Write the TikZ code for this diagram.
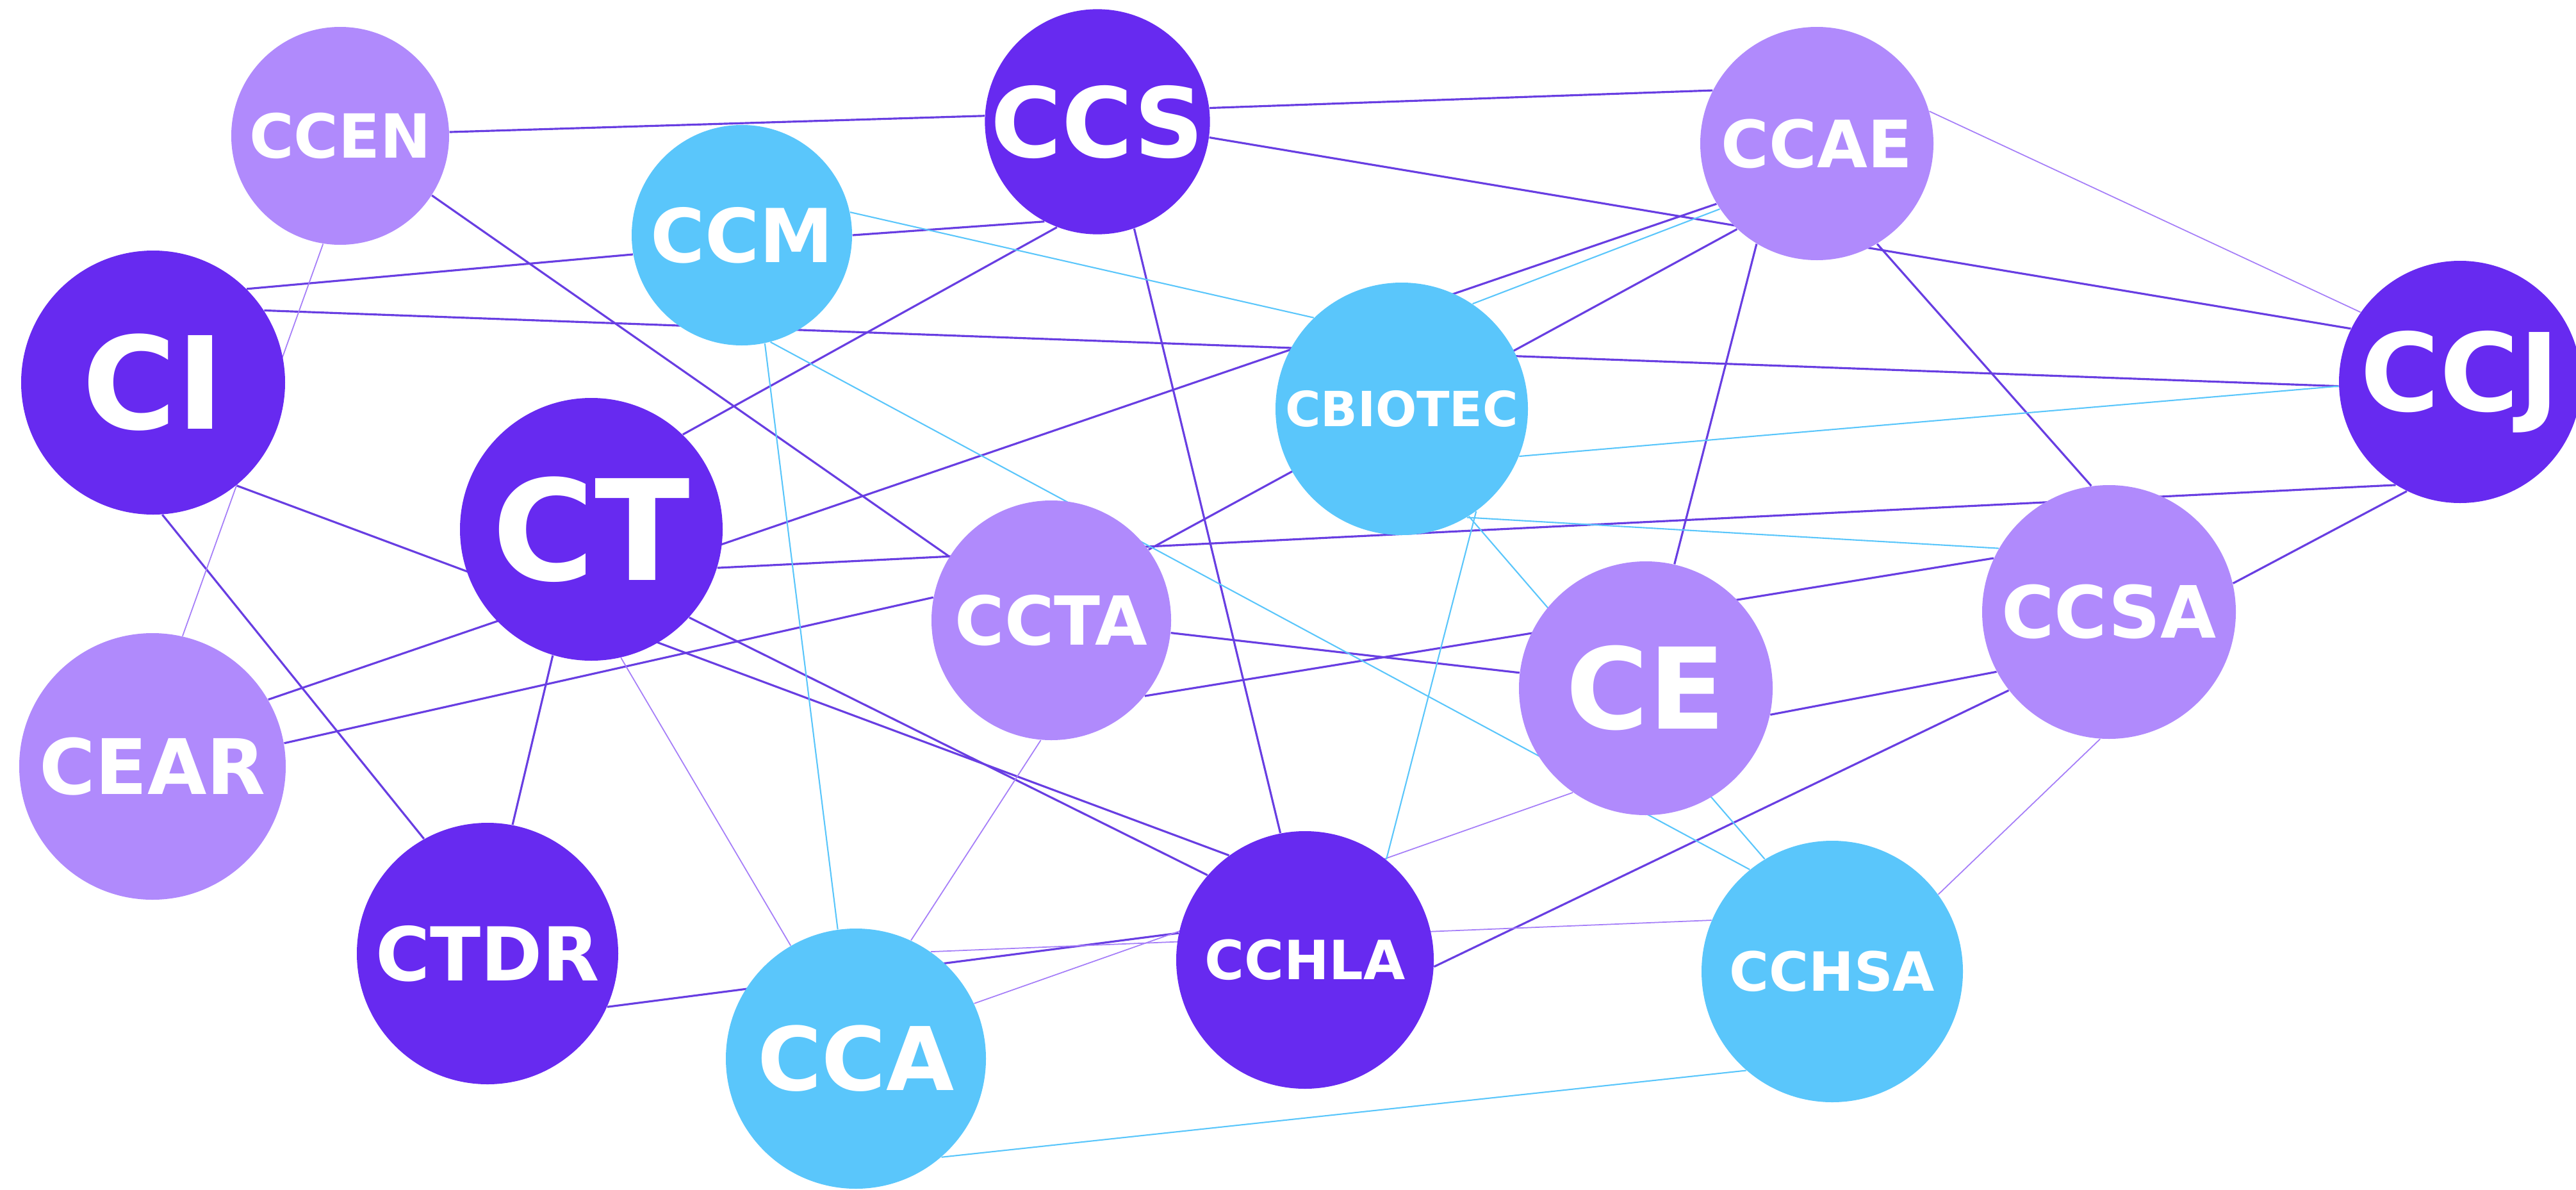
\documentclass[tikz,border=0pt]{standalone}
\usepackage{fontspec}
\setmainfont{DejaVu Sans}
\usetikzlibrary{backgrounds}
\definecolor{deepviolet}{RGB}{103,42,240}
\definecolor{lilac}{RGB}{176,138,252}
\definecolor{skyblue}{RGB}{90,198,251}
\definecolor{linkviolet}{RGB}{104,62,226}
\newcommand{\lbl}[1]{\fontsize{#1}{#1}\selectfont\bfseries}

\begin{document}
\begin{tikzpicture}[
  hub/.style={circle, inner sep=0pt, text=white},
  core/.style={hub, fill=deepviolet},
  soft/.style={hub, fill=lilac},
  sky/.style={hub, fill=skyblue},
  strong/.style={line width=0.9pt, linkviolet},
  faint/.style={line width=0.5pt, lilac!85!linkviolet},
  cyanlink/.style={line width=0.6pt, skyblue}
]
\useasboundingbox (0,0) rectangle (40.21,-18.56);

% Centres
\node[soft, minimum size=3.40cm, font=\lbl{27pt}] (ccen) at (5.31,-2.12) {CCEN};
\node[core, minimum size=3.46cm, font=\lbl{43pt}] (ccs) at (17.13,-1.90) {CCS};
\node[sky, minimum size=3.44cm, font=\lbl{33pt}] (ccm) at (11.58,-3.67) {CCM};
\node[soft, minimum size=3.64cm, font=\lbl{29pt}] (ccae) at (28.36,-2.24) {CCAE};
\node[core, minimum size=4.12cm, font=\lbl{57pt}] (ci) at (2.39,-5.97) {CI};
\node[sky, minimum size=3.94cm, font=\lbl{21.5pt}] (cbiotec) at (21.88,-6.38) {CBIOTEC};
\node[core, minimum size=3.78cm, font=\lbl{48pt}] (ccj) at (38.40,-5.96) {CCJ};
\node[core, minimum size=4.10cm, font=\lbl{62pt}] (ct) at (9.23,-8.26) {CT};
\node[soft, minimum size=3.74cm, font=\lbl{30pt}] (ccta) at (16.41,-9.68) {CCTA};
\node[soft, minimum size=3.96cm, font=\lbl{50pt}] (ce) at (25.69,-10.74) {CE};
\node[soft, minimum size=3.96cm, font=\lbl{32pt}] (ccsa) at (32.92,-9.55) {CCSA};
\node[soft, minimum size=4.16cm, font=\lbl{34pt}] (cear) at (2.38,-11.96) {CEAR};
\node[core, minimum size=4.08cm, font=\lbl{33pt}] (ctdr) at (7.61,-14.88) {CTDR};
\node[sky, minimum size=4.06cm, font=\lbl{39pt}] (cca) at (13.36,-16.52) {CCA};
\node[core, minimum size=4.02cm, font=\lbl{24pt}] (cchla) at (20.37,-14.98) {CCHLA};
\node[sky, minimum size=4.08cm, font=\lbl{24pt}] (cchsa) at (28.60,-15.16) {CCHSA};

% Links, kept behind the circles
\begin{scope}[on background layer]
\draw[strong] (ccen.2) -- (ccs.177);
\draw[strong] (ccen.-33) -- (ccta.148);
\draw[strong] (ci.45) -- (ccm.190);
\draw[strong] (ci.33.5) -- (ccj.182);
\draw[strong] (ci.-51) -- (cchla.126);
\draw[strong] (ci.-86) -- (ctdr.119);
\draw[strong] (ct.46) -- (ccs.-111.5);
\draw[strong] (cear.30) -- (ccae.-149);
\draw[strong] (ct.-17.4) -- (ccj.-122.6);
\draw[strong] (ct.-42) -- (cchla.139);
\draw[strong] (ct.-107.6) -- (ctdr.79);
\draw[strong] (cear.10.3) -- (ccta.169);
\draw[strong] (ccm.0) -- (ccs.-118.6);
\draw[strong] (ccta.36) -- (ccae.-133.5);
\draw[strong] (ccs.7.3) -- (ccae.153.3);
\draw[strong] (ccs.-8.6) -- (ccj.154.4);
\draw[strong] (ccae.-59.7) -- (ccsa.98.4);
\draw[strong] (ccae.-121.3) -- (ce.77.8);
\draw[strong] (ccsa.13) -- (ccj.-116.6);
\draw[strong] (ccta.-39.6) -- (ccsa.155.2);
\draw[strong] (ccta.-6) -- (ce.173.5);
\draw[strong] (ce.-12.7) -- (ccsa.-152.2);
\draw[strong] (cchla.-3.4) -- (ccsa.-142.2);
\draw[strong] (ctdr.-24.7) -- (cchla.168.5);
\draw[strong] (ccs.-71) -- (cchla.101.6);

\draw[faint] (ccen.-99) -- (cear.77.4);
\draw[faint] (ct.-77) -- (cca.120);
\draw[faint] (ccae.16) -- (ccj.145);
\draw[faint] (cca.55.5) -- (cchsa.157.2);
\draw[faint] (cca.25) -- (ce.-125.8);
\draw[faint] (ccta.-95.4) -- (cca.65.4);
\draw[faint] (ccsa.-94.8) -- (cchsa.36.3);

\draw[cyanlink] (ccm.12) -- (cbiotec.134);
\draw[cyanlink] (ccm.-78) -- (cca.98.7);
\draw[cyanlink] (ccm.-75) -- (cchsa.129.5);
\draw[cyanlink] (cbiotec.56) -- (ccae.-146);
\draw[cyanlink] (cbiotec.-22) -- (ccj.182);
\draw[cyanlink] (cbiotec.-59.6) -- (ccsa.150);
\draw[cyanlink] (cca.-49) -- (cchsa.-131);
\draw[cyanlink] (cbiotec.-54.5) -- (cchla.51);
\draw[cyanlink] (cbiotec.-58.4) -- (cchsa.121.5);
\end{scope}
\end{tikzpicture}
\end{document}
